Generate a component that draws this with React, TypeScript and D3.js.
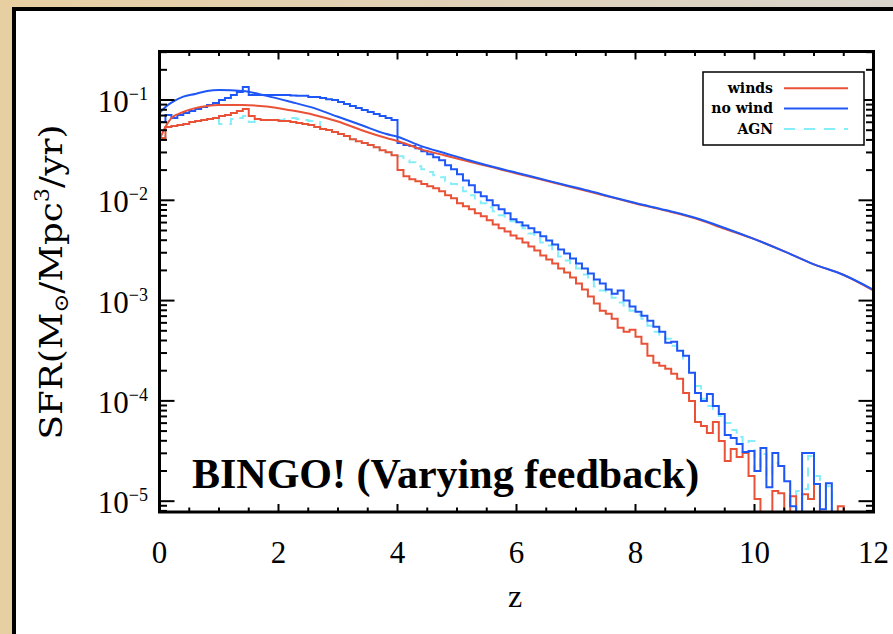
import React from 'react';
import * as d3 from 'd3';

// ---------- data ----------
const BIN = 0.1; // histogram bin width in z

// lower (histogram) curves, one value per 0.1 bin starting at z = 0
const noWindLowerSFR = [
  0.0603, 0.0708, 0.0661, 0.0708, 0.0741, 0.0776, 0.0813, 0.0851, 0.0891, 0.0933,
  0.100, 0.105, 0.112, 0.120, 0.135, 0.112, 0.112, 0.112, 0.112, 0.112,
  0.112, 0.112, 0.111, 0.110, 0.110, 0.107, 0.107, 0.105, 0.102, 0.100,
  0.0955, 0.0912, 0.0871, 0.0832, 0.0794, 0.0759, 0.0724, 0.0692, 0.0661, 0.0631,
  0.0372, 0.0355, 0.0347, 0.0331, 0.0309, 0.0288, 0.0269, 0.0251, 0.0224, 0.0204,
  0.0182, 0.0158, 0.0141, 0.0120, 0.0110, 0.0100, 0.00891, 0.00813, 0.00741, 0.00646,
  0.00603, 0.00562, 0.00525, 0.00479, 0.00437, 0.00398, 0.00363, 0.00324, 0.00295, 0.00263,
  0.00234, 0.00209, 0.00186, 0.00162, 0.00148, 0.00129, 0.00117, 0.00126, 0.00100, 0.000871,
  0.000776, 0.000708, 0.000631, 0.000550, 0.000490, 0.000380, 0.000389, 0.000316, 0.000282, 0.000191,
  0.000120, 0.000100, 0.000117, 0.0000891, 0.0000741, 0.0000457, 0.0000427, 0.0000372, 0.0000309, 0.0000316,
  0.0000200, 0.0000339, 0.0000138, 0.0000302, 0.0000224, 0.0000158, 0.00000891, 0, 0.0000302, 0.0000302,
  0.0000148, 0.0000083, 0.0000151, 0,
];

const windsLowerSFR = [
  0.0417, 0.0537, 0.0550, 0.0562, 0.0575, 0.0603, 0.0617, 0.0631, 0.0646, 0.0661,
  0.0692, 0.0708, 0.0741, 0.0776, 0.0813, 0.0692, 0.0646, 0.0631, 0.0631, 0.0631,
  0.0617, 0.0617, 0.0603, 0.0589, 0.0575, 0.0562, 0.0537, 0.0513, 0.0501, 0.0479,
  0.0457, 0.0437, 0.0407, 0.0389, 0.0372, 0.0355, 0.0339, 0.0316, 0.0302, 0.0282,
  0.0200, 0.0174, 0.0162, 0.0155, 0.0145, 0.0138, 0.0132, 0.0123, 0.0112, 0.0105,
  0.00933, 0.00871, 0.00813, 0.00741, 0.00692, 0.00631, 0.00575, 0.00525, 0.00490, 0.00447,
  0.00417, 0.00380, 0.00347, 0.00316, 0.00282, 0.00257, 0.00234, 0.00209, 0.00191, 0.00170,
  0.00148, 0.00129, 0.00110, 0.000933, 0.000794, 0.000741, 0.000661, 0.000537, 0.000490, 0.000513,
  0.000437, 0.000372, 0.000282, 0.000240, 0.000224, 0.000209, 0.000186, 0.000166, 0.000120, 0.000100,
  0.0000617, 0.0000562, 0.0000479, 0.0000617, 0.0000398, 0.0000251, 0.0000331, 0.0000275, 0.0000302, 0.0000178,
  0.0000105, 0, 0, 0.0000126, 0.0000120, 0, 0.0000112, 0, 0.0000117, 0.0000105,
  0.0000148, 0, 0, 0, 0.00000891, 0,
];

const agnLowerSFR = [
  0.0417, 0.0537, 0.0550, 0.0562, 0.0575, 0.0603, 0.0617, 0.0631, 0.0646, 0.0661,
  0.0575, 0.0575, 0.0646, 0.0661, 0.0692, 0.0603, 0.0617, 0.0631, 0.0631, 0.0631,
  0.0631, 0.0646, 0.0661, 0.0646, 0.0631, 0.0617, 0.0603, 0.0513, 0.0501, 0.0479,
  0.0457, 0.0437, 0.0407, 0.0389, 0.0372, 0.0355, 0.0339, 0.0316, 0.0302, 0.0282,
  0.0275, 0.0251, 0.0240, 0.0219, 0.0204, 0.0191, 0.0178, 0.0170, 0.0155, 0.0145,
  0.0135, 0.0123, 0.0112, 0.0100, 0.00933, 0.00851, 0.00776, 0.00708, 0.00661, 0.00617,
  0.00562, 0.00525, 0.00468, 0.00417, 0.00380, 0.00355, 0.00316, 0.00275, 0.00251, 0.00224,
  0.00209, 0.00182, 0.00158, 0.00138, 0.00126, 0.00117, 0.00107, 0.000955, 0.000891, 0.000794,
  0.000724, 0.000661, 0.000562, 0.000490, 0.000457, 0.000417, 0.000355, 0.000316, 0.000263, 0.000191,
  0.000141, 0.000105, 0.0000891, 0.0000832, 0.0000708, 0.0000603, 0.0000513, 0.0000437, 0.0000372, 0.0000398,
  0.0000200, 0.0000295, 0.0000178, 0.0000240, 0.0000224, 0.0000158, 0, 0.0000126, 0.0000132, 0.0000282,
  0.0000178, 0, 0.0000141, 0,
];

// upper (smooth) curves
const upperZ = [0, 0.1, 0.2, 0.4, 0.6, 0.8, 1.0, 1.4, 1.8, 2.2, 2.6, 3.0, 3.4, 3.8, 4.0, 4.4, 4.8,
  5.2, 5.6, 6.0, 6.4, 6.8, 7.2, 7.6, 8.0, 8.5, 9.0, 9.5, 10.0, 10.5, 11.0, 11.5, 12.0];
const windsUpperSFR = [0.040, 0.054, 0.066, 0.076, 0.083, 0.087, 0.089, 0.089, 0.086, 0.079, 0.071,
  0.061, 0.050, 0.042, 0.039, 0.0322, 0.0280, 0.0244, 0.0213, 0.0185, 0.0162, 0.0141, 0.0123,
  0.0107, 0.0093, 0.0079, 0.0066, 0.0052, 0.0041, 0.0031, 0.0023, 0.0018, 0.00126];
const noWindUpperSFR = [0.074, 0.085, 0.094, 0.108, 0.115, 0.123, 0.126, 0.123, 0.110, 0.096, 0.083,
  0.068, 0.056, 0.046, 0.043, 0.0347, 0.0295, 0.0251, 0.0216, 0.0188, 0.0164, 0.0143, 0.0125,
  0.0108, 0.0094, 0.0080, 0.0067, 0.0053, 0.0041, 0.0031, 0.0023, 0.0018, 0.00128];

const xTickLabels = [0, 2, 4, 6, 8, 10, 12];
const yDecadeExponents = [-1, -2, -3, -4, -5];
const legendLabels = ['winds', 'no wind', 'AGN'];

// ---------- styles ----------
const RED = '#ea5238';
const BLUE = '#1f57f7';
const CYAN = '#86eef8';

export default function App() {
  const W = 893;
  const H = 634;
  const L = 159.5, R = 873.5, T = 51.5, B = 512;
  const x = d3.scaleLinear().domain([0, 12]).range([L, R]);
  const y = d3.scaleLog().domain([7.8e-6, 0.3046]).range([B, T]);
  const yv = (v: number) => (v > 0 ? y(v) : B + 30);

  const histPath = (arr: number[]) => {
    const pts: [number, number][] = arr.map((v, i) => [x(i * BIN), yv(v)]);
    pts.push([x(arr.length * BIN), yv(arr[arr.length - 1])]);
    return d3.line().curve(d3.curveStepAfter)(pts) || '';
  };
  const smoothPath = (vals: number[]) =>
    d3.line<number>().x((_, i) => x(upperZ[i])).y((v) => y(v)).curve(d3.curveMonotoneX)(vals) || '';

  // ticks
  const xTicks = d3.range(0, 12.001, 0.5);
  const yTicks: { v: number; major: boolean }[] = [];
  for (let k = -6; k <= 0; k++) {
    for (let m = 1; m <= 9; m++) {
      const v = m * Math.pow(10, k);
      if (v >= 7.8e-6 && v <= 0.3046) yTicks.push({ v, major: m === 1 });
    }
  }

  const serif = '"Liberation Serif", "Times New Roman", serif';
  const legendColors = [RED, BLUE, CYAN];

  return (
    <svg width={W} height={H} style={{ position: 'fixed', left: 0, top: 0 }} xmlns="http://www.w3.org/2000/svg">
      <defs>
        <linearGradient id="bg" x1="0" x2="1" y1="0" y2="0">
          <stop offset="0" stopColor="#e8cfa2" />
          <stop offset="1" stopColor="#d9d4cc" />
        </linearGradient>
        <clipPath id="plotclip">
          <rect x={L} y={T} width={R - L} height={B - T} />
        </clipPath>
      </defs>
      <rect x={0} y={0} width={W} height={H} fill="url(#bg)" />
      <rect x={12} y={7} width={W} height={H} fill="#000" />
      <rect x={16} y={11} width={W} height={H} fill="#fff" />

      {/* data */}
      <g clipPath="url(#plotclip)" fill="none" strokeWidth={2}>
        <path d={histPath(agnLowerSFR)} stroke={CYAN} strokeDasharray="9,7" />
        <path d={histPath(windsLowerSFR)} stroke={RED} />
        <path d={histPath(noWindLowerSFR)} stroke={BLUE} />
        <path d={smoothPath(windsUpperSFR)} stroke={RED} />
        <path d={smoothPath(noWindUpperSFR)} stroke={BLUE} />
      </g>

      {/* axes box */}
      <rect x={L} y={T} width={R - L} height={B - T} fill="none" stroke="#000" strokeWidth={3} />

      {/* ticks */}
      <g stroke="#000" strokeWidth={2}>
        {xTicks.map((t) => {
          const major = Math.abs(t % 2) < 1e-6;
          const len = major ? 8 : 4.5;
          return (
            <g key={'xt' + t}>
              <line x1={x(t)} x2={x(t)} y1={B} y2={B - len} />
              <line x1={x(t)} x2={x(t)} y1={T} y2={T + len} />
            </g>
          );
        })}
        {yTicks.map((t, i) => {
          const len = t.major ? 15 : 7.5;
          return (
            <g key={'yt' + i}>
              <line x1={L} x2={L + len} y1={y(t.v)} y2={y(t.v)} />
              <line x1={R} x2={R - len} y1={y(t.v)} y2={y(t.v)} />
            </g>
          );
        })}
      </g>

      {/* tick labels */}
      <g fontFamily={serif} fontSize={31} fill="#000">
        {xTickLabels.map((t) => (
          <text key={'xl' + t} x={x(t)} y={563} textAnchor="middle">{t}</text>
        ))}
        {yDecadeExponents.map((e) => (
          <text key={'yl' + e} x={148} y={y(Math.pow(10, e)) + 12} textAnchor="end">
            10<tspan dy={-12} fontSize={18}>{'\u2212' + Math.abs(e)}</tspan>
          </text>
        ))}
      </g>

      {/* axis titles */}
      <text x={515} y={607} textAnchor="middle" fontFamily={serif} fontSize={32}>z</text>
      <text
        transform="translate(62,282) rotate(-90)"
        textAnchor="middle"
        fontFamily='"DejaVu Serif", serif'
        fontSize={32}
        textLength={315}
        lengthAdjust="spacingAndGlyphs"
      >
        SFR(M<tspan dy={6} fontSize={20}>{'\u2299'}</tspan>
        <tspan dy={-6}>/Mpc</tspan>
        <tspan dy={-13} fontSize={20}>3</tspan>
        <tspan dy={13}>/yr)</tspan>
      </text>

      {/* annotation */}
      <text x={192} y={488} fontFamily={serif} fontWeight="bold" fontSize={42}>BINGO! (Varying feedback)</text>

      {/* legend */}
      <rect x={703} y={72} width={161} height={73} fill="#fff" stroke="#000" strokeWidth={1.5} />
      {legendLabels.map((lab, i) => (
        <g key={lab}>
          <text x={773} y={93 + i * 20.3} textAnchor="end" fontFamily='"DejaVu Serif", serif' fontWeight="bold" fontSize={14}>{lab}</text>
          <line x1={784} x2={848} y1={88.3 + i * 20.3} y2={88.3 + i * 20.3} stroke={legendColors[i]} strokeWidth={2}
            strokeDasharray={i === 2 ? '11,9' : undefined} />
        </g>
      ))}
    </svg>
  );
}
